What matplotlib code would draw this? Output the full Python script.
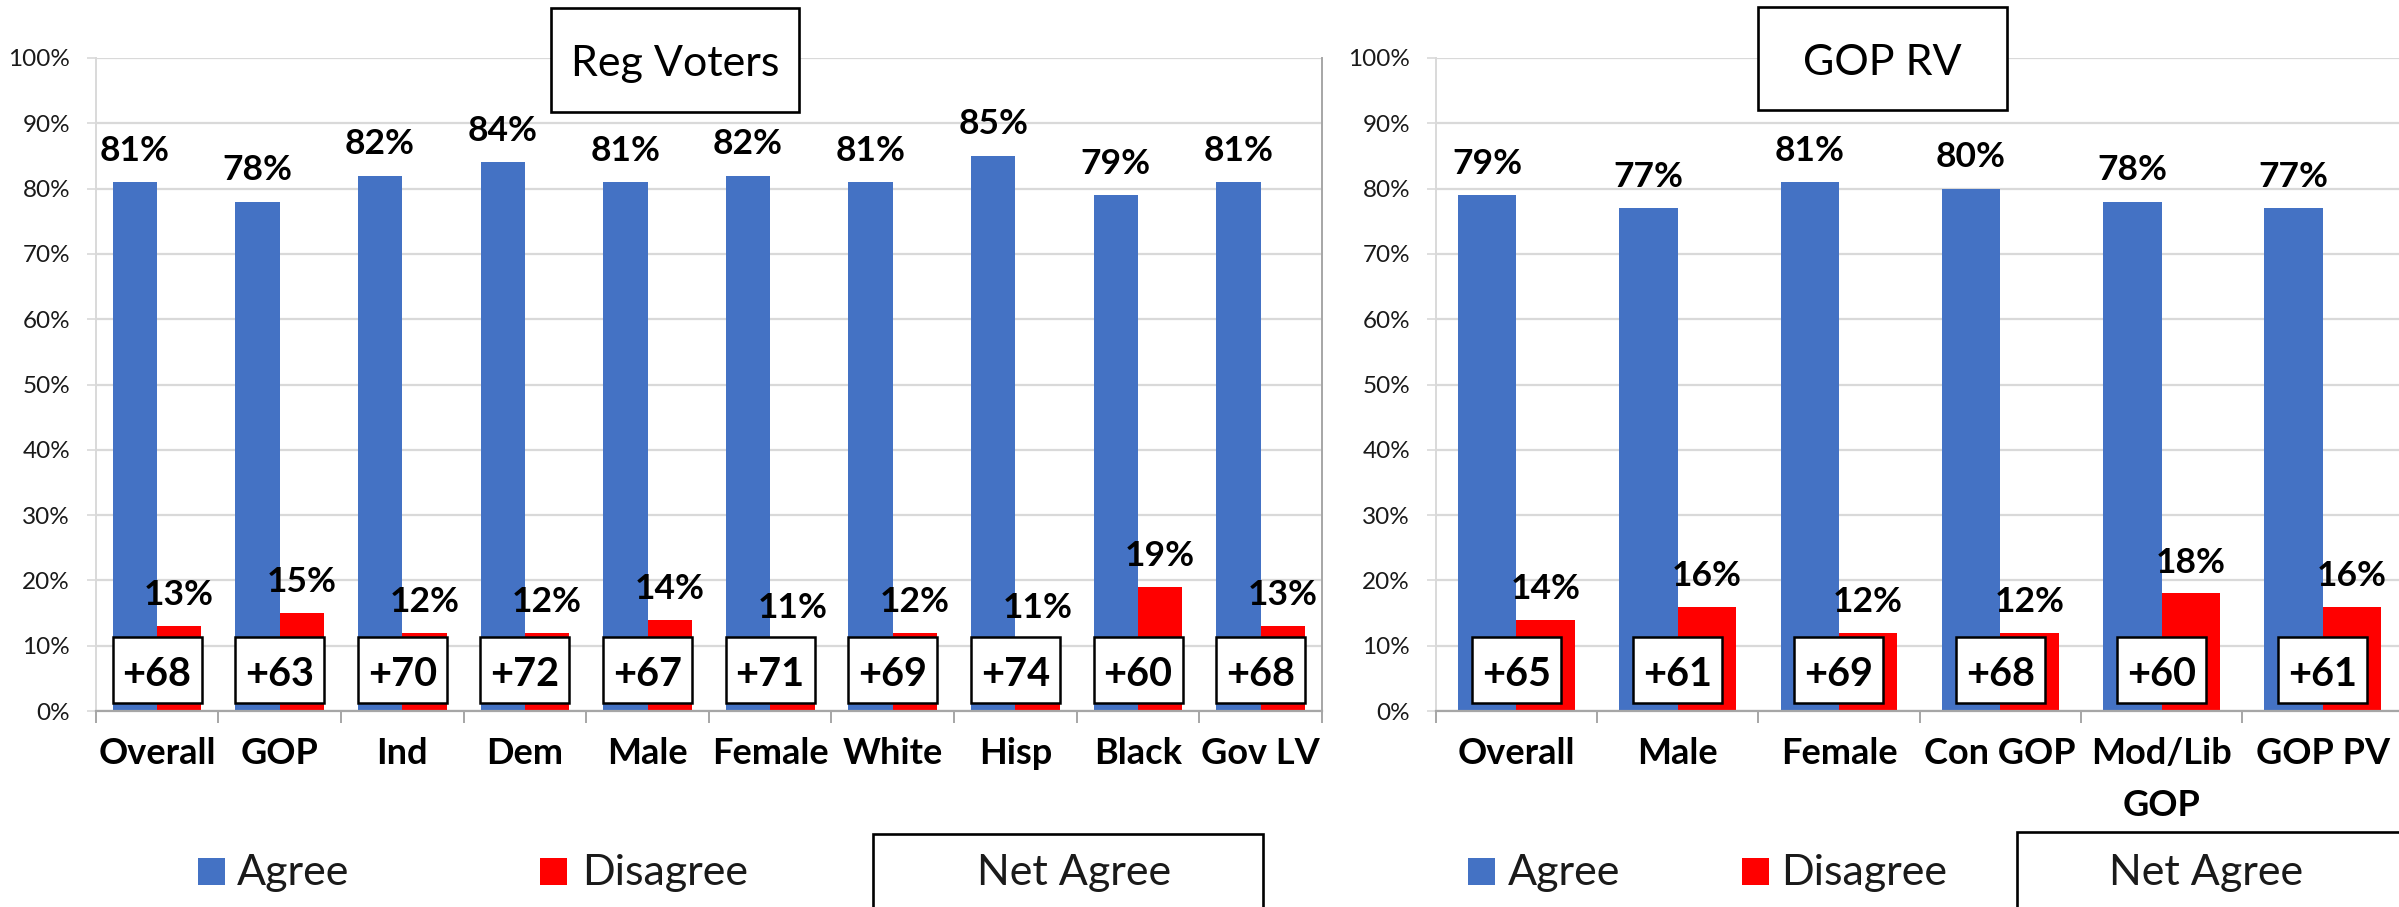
import numpy as np
import matplotlib.pyplot as plt
from matplotlib.patches import Rectangle

plt.rcParams['font.family'] = ['Lato', 'DejaVu Sans']

# DATA
rv_groups = ['Overall', 'GOP', 'Ind', 'Dem', 'Male', 'Female', 'White', 'Hisp', 'Black', 'Gov LV']
rv_agree = [81, 78, 82, 84, 81, 82, 81, 85, 79, 81]
rv_disagree = [13, 15, 12, 12, 14, 11, 12, 11, 19, 13]
rv_net = [68, 63, 70, 72, 67, 71, 69, 74, 60, 68]

gop_groups = ['Overall', 'Male', 'Female', 'Con GOP', 'Mod/Lib\nGOP', 'GOP PV']
gop_agree = [79, 77, 81, 80, 78, 77]
gop_disagree = [14, 16, 12, 12, 18, 16]
gop_net = [65, 61, 69, 68, 60, 61]

BLUE = '#4472C4'
RED = '#FF0000'
GRID = '#D9D9D9'
AXIS = '#A6A6A6'
TXT = '#1a1a1a'

W, H = 2399, 907
Y0, Y100 = 711, 58  # pixel rows of 0% and 100%

fig = plt.figure(figsize=(W / 100, H / 100), dpi=100)


def to_data(ypx):
    return (Y0 - ypx) / (Y0 - Y100) * 100


def panel(left_px, right_px, groups, agree, disagree, net, show_right):
    ax = fig.add_axes([left_px / W, 1 - Y0 / H, (right_px - left_px) / W, (Y0 - Y100) / H])
    n = len(groups)
    x = np.arange(n)
    bw = 0.362
    ax.bar(x - bw / 2, agree, bw, color=BLUE, zorder=2)
    ax.bar(x + bw / 2, disagree, bw, color=RED, zorder=2)
    ax.set_xlim(-0.5, n - 0.5)
    ax.set_ylim(0, 100)

    ax.set_yticks(np.arange(0, 101, 10))
    ax.set_yticklabels([f'{v}%' for v in range(0, 101, 10)])
    ax.yaxis.grid(True, color=GRID, lw=1.6, zorder=0)
    ax.tick_params(axis='y', length=6.5, width=1.2, color=GRID, pad=12,
                   labelsize=17.5, labelcolor=TXT)

    ax.set_xticks(x)
    ax.set_xticklabels(groups, fontsize=26, fontweight='bold', color='black', linespacing=1.7)
    ax.set_xticks(np.arange(n + 1) - 0.5, minor=True)
    ax.tick_params(axis='x', which='major', length=0, pad=18.5)
    ax.tick_params(axis='x', which='minor', length=8.6, width=1.4, color=AXIS)

    ax.spines['top'].set_visible(False)
    ax.spines['left'].set_color(GRID)
    ax.spines['left'].set_linewidth(1.4)
    ax.spines['bottom'].set_color(AXIS)
    ax.spines['bottom'].set_linewidth(1.6)
    ax.spines['bottom'].set_zorder(4)
    if show_right:
        ax.spines['right'].set_color(AXIS)
        ax.spines['right'].set_linewidth(1.4)
    else:
        ax.spines['right'].set_visible(False)

    for i in range(n):
        ax.annotate(f'{agree[i]}%', (x[i] - bw / 2, agree[i]), xytext=(0, 15.5),
                    textcoords='offset points', ha='center', va='baseline',
                    fontsize=25.5, fontweight='bold', color='black', zorder=5)
        ax.annotate(f'{disagree[i]}%', (x[i] + bw / 2, disagree[i]), xytext=(0, 15),
                    textcoords='offset points', ha='center', va='baseline',
                    fontsize=25.5, fontweight='bold', color='black', zorder=5)

    # net agree boxes, fixed pixel size
    box_w = 89 / ((right_px - left_px) / n)
    box_top, box_bot = to_data(637), to_data(703)
    for i in range(n):
        ax.add_patch(Rectangle((x[i] - box_w / 2, box_bot), box_w, box_top - box_bot,
                               facecolor='white', edgecolor='black', lw=1.8, zorder=6))
        ax.text(x[i], to_data(686), f'+{net[i]}', ha='center', va='baseline',
                fontsize=28.5, fontweight='bold', color='black', zorder=7)
    return ax


panel(95.7, 1322, rv_groups, rv_agree, rv_disagree, rv_net, True)
panel(1435.7, 1435.7 + 6 * 161.3, gop_groups, gop_agree, gop_disagree, gop_net, False)


def fig_box(x0, y0, x1, y1, lw=1.9):
    fig.add_artist(Rectangle((x0 / W, 1 - y1 / H), (x1 - x0) / W, (y1 - y0) / H,
                             transform=fig.transFigure, facecolor='white',
                             edgecolor='black', lw=lw, zorder=10))


# title boxes
fig_box(551, 8, 799, 112)
fig.text(675 / W, 1 - 76 / H, 'Reg Voters', ha='center', va='baseline', fontsize=31, zorder=11)
fig_box(1758, 7, 2007, 110)
fig.text(1882 / W, 1 - 75 / H, 'GOP RV', ha='center', va='baseline', fontsize=31, zorder=11)

# legends
for sq_x, txt_x, col, lab in [(198, 237, BLUE, 'Agree'), (540, 582, RED, 'Disagree'),
                              (1468, 1508, BLUE, 'Agree'), (1741.5, 1781, RED, 'Disagree')]:
    fig.add_artist(Rectangle((sq_x / W, 1 - 885 / H), 27 / W, 27 / H,
                             transform=fig.transFigure, facecolor=col, edgecolor='none'))
    fig.text(txt_x / W, 1 - 885 / H, lab, ha='left', va='baseline', fontsize=31, color=TXT)

fig_box(873, 834, 1263, 960)
fig.text(1074 / W, 1 - 885 / H, 'Net Agree', ha='center', va='baseline', fontsize=31, color=TXT, zorder=11)
fig_box(2017, 832, 2407, 960)
fig.text(2206 / W, 1 - 885 / H, 'Net Agree', ha='center', va='baseline', fontsize=31, color=TXT, zorder=11)

fig.savefig('out.png', dpi=100, facecolor='white')
